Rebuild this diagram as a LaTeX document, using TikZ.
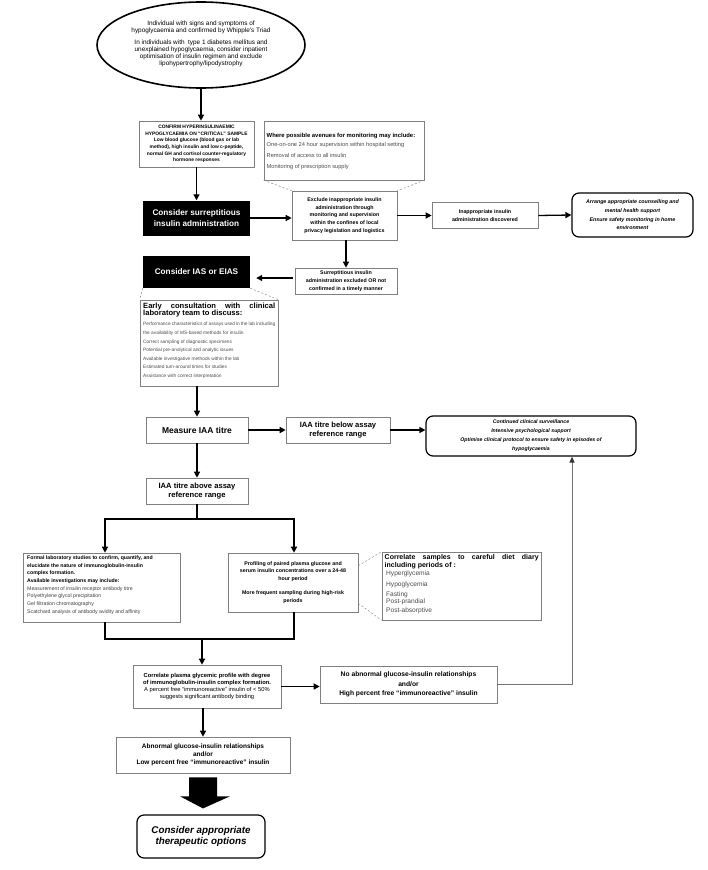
\documentclass[tikz,border=0pt]{standalone}
\usepackage{fontspec}
\setmainfont{Liberation Sans}
\usetikzlibrary{shapes.geometric,arrows.meta,calc}
\newcommand\fz[2]{\fontsize{#1}{#2}\selectfont}
\begin{document}
\begin{tikzpicture}[x=1pt,y=-1pt,
  gbox/.style={draw=black!50,line width=0.6pt,fill=white,inner sep=1pt,align=center},
  bbox/.style={fill=black,text=white,inner sep=1pt,align=center,font=\fz{8.2}{11.5}\bfseries},
  rbox/.style={draw=black,line width=1.2pt,rounded corners=7pt,fill=white,inner sep=1pt,align=center},
  arr/.style={-{Triangle[length=6pt,width=6pt]},line width=1.3pt},
  garr/.style={-{Triangle[length=6pt,width=5pt,color=black!80]},line width=1pt,draw=black!55},
  dsh/.style={draw=black!45,line width=0.5pt,dash pattern=on 2pt off 2pt},
  gtxt/.style={text=black!70},
]
\fill[white] (0,0) rectangle (708,870);
\useasboundingbox (0,0) rectangle (708,870);

% ---- top ellipse
\node[draw,ellipse,line width=1.6pt,minimum width=208pt,minimum height=86pt,inner sep=0] (e) at (201,45) {};
\node[align=center,font=\fz{6.4}{7.3},inner sep=0] (et) at (201,44) {Individual with signs and symptoms of\\hypoglycaemia and confirmed by Whipple’s Triad\\[4pt]In individuals with~ type 1 diabetes mellitus and\\unexplained hypoglycaemia, consider inpatient\\optimisation of insulin regimen and exclude\\lipohypertrophy/lipodystrophy};

% ---- confirm box
\node[gbox,minimum width=115pt,minimum height=46pt,font=\fz{4.9}{6.6}\bfseries] (conf) at (196.5,144) {CONFIRM HYPERINSULINAEMIC\\HYPOGLYCAEMIA ON “CRITICAL” SAMPLE\\Low blood glucose (blood gas or lab\\method), high insulin and low c-peptide,\\normal GH and cortisol counter-regulatory\\hormone responses};

% ---- monitoring callout
\node[gbox,minimum width=160pt,minimum height=59pt] (mon) at (344,150.5) {};
\node[anchor=west,inner sep=0,font=\fz{5.9}{6}\bfseries] (mon1) at (266.5,136) {Where possible avenues for monitoring may include:};
\node[anchor=west,inner sep=0,gtxt,font=\fz{5.7}{6}] (mon2) at (266.5,145.5) {One-on-one 24 hour supervision within hospital setting};
\node[anchor=west,inner sep=0,gtxt,font=\fz{5.7}{6}] (mon3) at (266.5,155) {Removal of access to all insulin};
\node[anchor=west,inner sep=0,gtxt,font=\fz{5.7}{6}] (mon4) at (266.5,167) {Monitoring of prescription supply};

% ---- row 1
\node[bbox,minimum width=107pt,minimum height=35pt] (cs) at (196.5,218) {Consider surreptitious\\insulin administration};
\node[gbox,minimum width=105pt,minimum height=49pt,font=\fz{5.3}{7.8}\bfseries] (excl) at (344.5,215.5) {Exclude inappropriate insulin\\administration through\\monitoring and supervision\\within the confines of local\\privacy legislation and logistics};
\node[gbox,minimum width=106pt,minimum height=26pt,font=\fz{5.3}{8}\bfseries] (inap) at (485,215.5) {Inappropriate insulin\\administration discovered};
\node[rbox,minimum width=121pt,minimum height=44pt,font=\fz{5.3}{8.7}\bfseries\itshape] (arrg) at (632.5,215) {Arrange appropriate counselling and\\mental health support\\Ensure safety monitoring in home\\environment};

\draw[dsh] (mon.south west) -- (excl.north west);
\draw[dsh] (mon.south east) -- (excl.north east);

% ---- row 2
\node[gbox,minimum width=102pt,minimum height=26pt,font=\fz{5.3}{8.2}\bfseries] (surx) at (346,281) {Surreptitious insulin\\administration excluded OR not\\confirmed in a timely manner};
\node[bbox,minimum width=107pt,minimum height=32pt] (ias) at (196.5,272) {Consider IAS or EIAS};

% ---- early consultation
\node[gbox,minimum width=138pt,minimum height=86pt] (early) at (209,343) {};
\node[anchor=north west,inner sep=0,text width=132pt,align=justify] (earlyt) at (143,302.5) {\fz{7.6}{7.6}\bfseries Early consultation with clinical\linebreak laboratory team to discuss:\par\vspace{1.5pt}
\fz{4.8}{8.6}\mdseries\color{black!70}Performance characteristics of assays used in the lab including the availability of MS-based methods for insulin\par
Correct sampling of diagnostic specimens\par
Potential pre-analytical and analytic issues\par
Available investigative methods within the lab\par
Estimated turn-around times for studies\par
Assistance with correct interpretation\par};
\draw[dsh] (ias.south west) -- (early.north west);
\draw[dsh] (ias.south east) -- (early.north east);

% ---- IAA row
\node[gbox,minimum width=102pt,minimum height=26pt,font=\fz{8.5}{10}\bfseries] (meas) at (197,430) {Measure IAA titre};
\node[gbox,minimum width=104pt,minimum height=26pt,font=\fz{7.6}{8.6}\bfseries] (below) at (338,430) {IAA titre below assay\\reference range};
\node[rbox,minimum width=210pt,minimum height=40pt,font=\fz{5.2}{9}\bfseries\itshape] (cont) at (531,436) {Continued clinical surveillance\\Intensive psychological support\\Optimise clinical protocol to ensure safety in episodes of\\hypoglycaemia};
\node[gbox,minimum width=102pt,minimum height=26pt,font=\fz{7.6}{8.6}\bfseries] (above) at (197,491) {IAA titre above assay\\reference range};

% ---- studies
\node[gbox,minimum width=157pt,minimum height=69pt] (formal) at (101.5,587.5) {};
\node[anchor=north west,inner sep=0,align=left,font=\fz{5.2}{7.7}] (formalt) at (27,555.5) {\bfseries Formal laboratory studies to confirm, quantify, and\\\bfseries elucidate the nature of immunoglobulin-insulin\\\bfseries complex formation.\\\bfseries Available investigations may include:\\\color{black!75}Measurement of insulin receptor antibody titre\\\color{black!75}Polyethylene glycol precipitation\\\color{black!75}Gel filtration chromatography\\\color{black!75}Scatchard analysis of antibody avidity and affinity};
\node[gbox,minimum width=130pt,minimum height=59pt,font=\fz{5.3}{7.6}\bfseries] (prof) at (293,582.5) {Profiling of paired plasma glucose and\\serum insulin concentrations over a 24-48\\hour period\\[7pt]More frequent sampling during high-risk\\periods};

\node[gbox,minimum width=159pt,minimum height=68pt] (diet) at (461.5,586) {};
\node[anchor=north west,inner sep=0,text width=154pt,align=justify,font=\fz{7}{6.5}\bfseries] (diett) at (384.5,554.5) {Correlate samples to careful diet diary\linebreak including periods of :};
\node[anchor=west,inner sep=0,gtxt,font=\fz{6.6}{7}] (d1) at (386,574) {Hyperglycemia};
\node[anchor=west,inner sep=0,gtxt,font=\fz{6.6}{7}] (d2) at (386,585) {Hypoglycemia};
\node[anchor=west,inner sep=0,gtxt,font=\fz{6.6}{7}] (d3) at (386,594.5) {Fasting};
\node[anchor=west,inner sep=0,gtxt,font=\fz{6.6}{7}] (d4) at (386,602) {Post-prandial};
\node[anchor=west,inner sep=0,gtxt,font=\fz{6.6}{7}] (d5) at (386,611) {Post-absorptive};
\draw[dsh] ($(prof.north east)+(0,13)$) -- (diet.north west);
\draw[dsh] ($(prof.south east)+(0,-9)$) -- (diet.south west);

% ---- correlate
\node[gbox,minimum width=148pt,minimum height=43pt,font=\fz{5.8}{7.3}] (cp) at (207,686.5) {\bfseries Correlate plasma glycemic profile with degree\\\bfseries of immunoglobulin-insulin complex formation.\\A percent free “immunoreactive” insulin of < 50\%\\suggests significant antibody binding};
\node[gbox,minimum width=177pt,minimum height=37pt,font=\fz{6.7}{9.6}\bfseries] (noab) at (408.5,684.5) {No abnormal glucose-insulin relationships\\and/or\\High percent free “immunoreactive” insulin};
\node[gbox,minimum width=174pt,minimum height=36pt,font=\fz{6.5}{7.8}\bfseries] (abn) at (203,755) {Abnormal glucose-insulin relationships\\and/or\\Low percent free “immunoreactive” insulin};
\node[rbox,minimum width=128pt,minimum height=43pt,font=\fz{9.8}{11.5}\bfseries\itshape] (ther) at (201,836.5) {Consider appropriate\\therapeutic options};

% ---- connectors
\draw[arr] (e.south) -- (e.south |- conf.north);
\draw[arr] (conf.south) -- (cs.north);
\draw[arr] (cs.east) -- (cs.east -| excl.west);
\draw[arr] (excl.east |- inap.west) -- (inap.west);
\draw[arr] (inap.east) -- (arrg.west);
\draw[arr] (excl.south -| surx.north) -- (surx.north);
\draw[arr] ($(surx.west)+(-2,-3)$) -- ($(surx.west -| ias.east)+(6,-3)$);
\draw[arr] (early.south -| meas.north) -- (meas.north);
\draw[arr] (meas.east) -- (below.west);
\draw[arr] (below.east) -- (below.east -| cont.west);
\draw[arr] (meas.south) -- (above.north);

\coordinate (bl) at (105,519);
\coordinate (br) at (294,519);
\draw[arr,line join=miter] (above.south) |- (bl) -- (bl |- formal.north);
\draw[arr,line join=miter] (above.south |- br) -- (br) -- (br |- prof.north);

\coordinate (ml) at (105,639);
\coordinate (mr) at (294,639);
\coordinate (mm) at (202,639);
\draw[line width=1.3pt,line join=miter] (formal.south -| ml) -- (ml) -- (mr) -- (prof.south -| mr);
\draw[arr] (mm) -- (mm |- cp.north);

\draw[arr] (cp.east) -- (cp.east -| noab.west);
\coordinate (fb) at (572,684.5);
\draw[garr] (noab.east) -| (cont.south -| fb);
\draw[arr] (cp.south -| abn.north) -- (abn.north);

% fat arrow
\fill ($(abn.south)+(-14,4)$) -- ($(abn.south)+(14,4)$) -- ($(abn.south)+(14,23)$) -- ($(abn.south)+(27,23)$) -- ($(ther.north)+(2,-6)$) -- ($(abn.south)+(-23,23)$) -- ($(abn.south)+(-14,23)$) -- cycle;
\end{tikzpicture}
\end{document}
